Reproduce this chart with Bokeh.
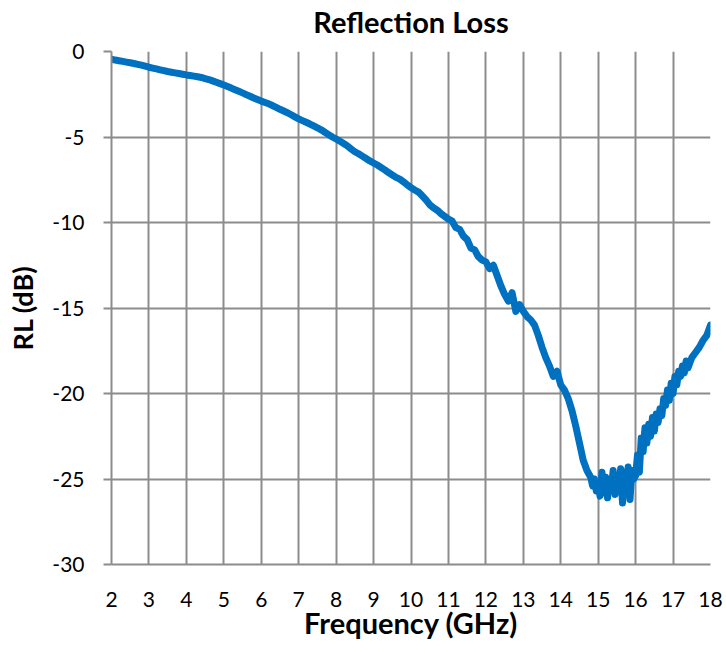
from bokeh.plotting import figure
from bokeh.models import FixedTicker, Range1d
from bokeh.embed import file_html
from bokeh.resources import INLINE

freq_ghz = [
    2.0, 2.1, 2.2, 2.3, 2.4, 2.5, 2.6, 2.7, 2.8, 2.9, 3.0,
    3.1, 3.2, 3.3, 3.4, 3.5, 3.6, 3.7, 3.8, 3.9, 4.0,
    4.1, 4.2, 4.3, 4.4, 4.5, 4.6, 4.7, 4.8, 4.9, 5.0,
    5.1, 5.2, 5.3, 5.4, 5.5, 5.6, 5.7, 5.8, 5.9, 6.0,
    6.1, 6.2, 6.3, 6.4, 6.5, 6.6, 6.7, 6.8, 6.9, 7.0,
    7.1, 7.2, 7.3, 7.4, 7.5, 7.6, 7.7, 7.8, 7.9, 8.0,
    8.1, 8.2, 8.3, 8.4, 8.5, 8.6, 8.7, 8.8, 8.9, 9.0,
    9.1, 9.2, 9.3, 9.4, 9.5, 9.6, 9.7, 9.8, 9.9, 10.0,
    10.1, 10.2, 10.3, 10.4, 10.5, 10.6, 10.7, 10.8, 10.9, 11.0,
    11.1, 11.2, 11.3, 11.4, 11.5, 11.6, 11.7, 11.8, 11.9, 12.0,
    12.1, 12.2, 12.3, 12.4, 12.5, 12.6, 12.7, 12.8, 12.9, 13.0,
    13.1, 13.2, 13.3, 13.4, 13.5, 13.6, 13.7, 13.8, 13.9, 14.0,
    14.1, 14.2, 14.3, 14.4, 14.5, 14.6, 14.7,
    14.80, 14.85, 14.90, 14.95, 15.00, 15.05, 15.10, 15.15, 15.20, 15.25,
    15.30, 15.35, 15.40, 15.45, 15.50, 15.55, 15.60, 15.65, 15.70, 15.75,
    15.80, 15.85, 15.90, 15.95, 16.00, 16.05, 16.10, 16.15, 16.20, 16.25,
    16.30, 16.35, 16.40, 16.45, 16.50, 16.55, 16.60, 16.65, 16.70, 16.75,
    16.80, 16.85, 16.90, 16.95, 17.00, 17.05, 17.10, 17.15, 17.20, 17.25,
    17.30, 17.35, 17.40,
    17.5, 17.6, 17.7, 17.8, 17.9, 18.0,
]

rl_db = [
    -0.45, -0.50, -0.54, -0.58, -0.62, -0.66, -0.70, -0.75, -0.80, -0.86, -0.92,
    -0.97, -1.02, -1.07, -1.12, -1.17, -1.21, -1.25, -1.29, -1.33, -1.37,
    -1.40, -1.44, -1.48, -1.52, -1.58, -1.64, -1.72, -1.80, -1.88, -1.96,
    -2.05, -2.14, -2.24, -2.33, -2.42, -2.52, -2.62, -2.72, -2.81, -2.90,
    -2.98, -3.06, -3.16, -3.27, -3.38, -3.48, -3.58, -3.70, -3.82, -3.94,
    -4.04, -4.14, -4.24, -4.35, -4.46, -4.58, -4.72, -4.86, -5.00, -5.12,
    -5.24, -5.38, -5.52, -5.70, -5.86, -5.98, -6.12, -6.26, -6.40, -6.52,
    -6.64, -6.78, -6.92, -7.08, -7.22, -7.36, -7.46, -7.62, -7.80, -7.96,
    -8.10, -8.22, -8.44, -8.68, -8.96, -9.14, -9.28, -9.48, -9.64, -9.80,
    -9.92, -10.30, -10.40, -10.80, -11.00, -11.50, -11.60, -12.00, -12.20, -12.30,
    -12.70, -12.50, -13.10, -13.70, -14.20, -14.60, -14.10, -15.20, -14.80, -15.20,
    -15.50, -15.70, -16.00, -16.60, -17.30, -17.90, -18.40, -19.00, -18.70, -19.50,
    -19.80, -20.30, -21.00, -21.90, -22.90, -23.90, -24.50,
    -24.9, -25.4, -25.0, -25.7, -25.3, -26.0, -24.6, -25.8, -24.9, -26.1,
    -25.0, -25.6, -24.5, -25.9, -24.8, -25.7, -24.4, -26.4, -24.6, -25.5,
    -24.3, -26.2, -24.5, -25.0, -24.8, -23.6, -24.6, -22.6, -23.4, -22.0,
    -22.9, -21.8, -22.5, -21.4, -22.2, -21.2, -21.7, -20.9, -21.3, -20.3,
    -20.7, -19.8, -20.4, -19.4, -20.0, -19.0, -19.5, -18.7, -19.0, -18.4,
    -18.8, -18.1, -18.5,
    -17.9, -17.6, -17.3, -16.9, -16.6, -16.0,
]

x_ticks = [2, 3, 4, 5, 6, 7, 8, 9, 10, 11, 12, 13, 14, 15, 16, 17, 18]
y_ticks = [-30, -25, -20, -15, -10, -5, 0]
y_tick_labels = {-30: "-30", -25: "-25", -20: "-20", -15: "-15",
                 -10: "-10", -5: "-5", 0: "0"}
chart_title = "Reflection Loss"

FONT = "Lato"
GRID = "#8c8c8c"

p = figure(
    width=726, height=656,
    output_backend="svg", toolbar_location=None,
    x_range=Range1d(2, 18), y_range=Range1d(-30, 0),
    min_border_left=111, min_border_right=16,
    min_border_top=62, min_border_bottom=81,
    title=chart_title,
)
# pull the whole canvas up so the (blank) top strip sits above the page
p.styles = {"margin-top": "-11px"}
p.outline_line_color = None
p.background_fill_color = "white"
p.border_fill_color = "white"

p.title.align = "center"
p.title.offset = -5
p.title.text_font = FONT
p.title.text_font_size = "29px"
p.title.text_font_style = "bold"
p.title.text_color = "black"
p.title.standoff = 25

p.line(freq_ghz, rl_db, line_color="#0070C0", line_width=7,
       line_join="round", line_cap="round")

p.xaxis.ticker = FixedTicker(ticks=x_ticks)
p.yaxis.ticker = FixedTicker(ticks=y_ticks)
p.yaxis.major_label_overrides = y_tick_labels
p.xgrid.ticker = FixedTicker(ticks=x_ticks)
p.ygrid.ticker = FixedTicker(ticks=y_ticks)
for g in (p.xgrid, p.ygrid):
    g.grid_line_color = GRID
    g.grid_line_width = 2

for ax in (p.xaxis, p.yaxis):
    ax.axis_line_color = GRID
    ax.axis_line_width = 2
    ax.major_tick_line_color = GRID
    ax.major_tick_line_width = 2
    ax.minor_tick_line_color = None
    ax.major_label_text_font = FONT
    ax.major_label_text_font_size = "21px"
    ax.major_label_text_color = "black"
    ax.axis_label_text_font = FONT
    ax.axis_label_text_font_style = "bold"
    ax.axis_label_text_color = "black"

p.xaxis.major_tick_out = 0
p.xaxis.major_tick_in = 0
p.xaxis.major_label_standoff = 27
p.xaxis.axis_label = "Frequency (GHz)"
p.xaxis.axis_label_text_font_size = "29px"
p.xaxis.axis_label_standoff = -5

p.yaxis.major_tick_out = 8
p.yaxis.major_tick_in = 0
p.yaxis.major_label_standoff = 19
p.yaxis.axis_label = "RL (dB)"
p.yaxis.axis_label_text_font_size = "27px"
p.yaxis.axis_label_standoff = 10

open("out.html", "w").write(file_html(p, INLINE))
